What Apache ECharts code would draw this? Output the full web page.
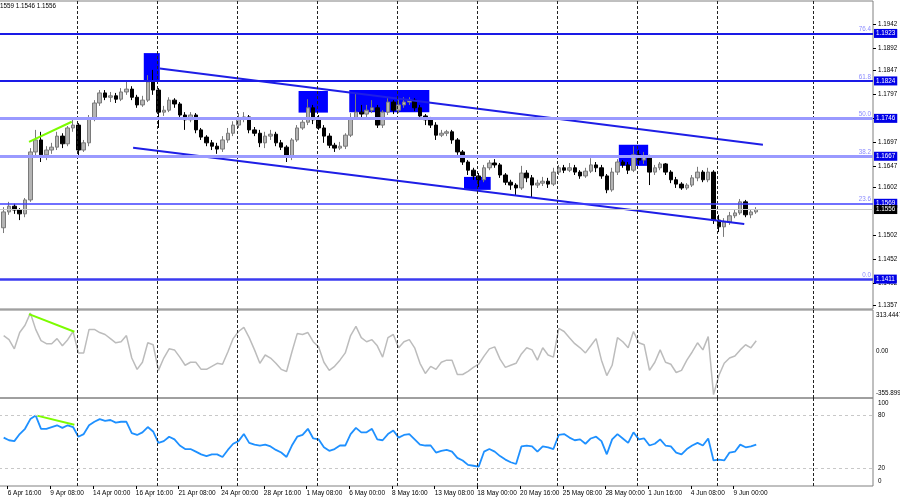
<!DOCTYPE html>
<html>
<head>
<meta charset="utf-8">
<script src="https://cdn.jsdelivr.net/npm/echarts@6/dist/echarts.min.js"></script>
<style>
html, body { margin: 0; padding: 0; background: #fff; }
#chart { width: 900px; height: 500px; }
</style>
</head>
<body>
<div id="chart"></div>
<script>
// x positions are H4 bar numbers, one candle here = two H4 bars
// [open, close, low, high]
const candles = [
  [1.1518,1.1551,1.1507,1.1561],[1.1551,1.1563,1.1545,1.1572],[1.1563,1.1555,1.1547,1.1568],[1.1555,1.1547,1.1534,1.1559],
  [1.1547,1.1576,1.1540,1.1580],[1.1576,1.1676,1.1572,1.1684],[1.1676,1.1701,1.1668,1.1722],[1.1701,1.1670,1.1655,1.1718],
  [1.1670,1.1680,1.1659,1.1688],[1.1680,1.1686,1.1672,1.1695],[1.1686,1.1709,1.1680,1.1718],[1.1709,1.1693,1.1684,1.1715],
  [1.1693,1.1726,1.1688,1.1730],[1.1726,1.1732,1.1718,1.1743],[1.1732,1.1680,1.1665,1.1736],[1.1680,1.1695,1.1676,1.1701],
  [1.1695,1.1747,1.1688,1.1753],[1.1747,1.1778,1.1740,1.1784],[1.1778,1.1799,1.1772,1.1805],[1.1799,1.1790,1.1784,1.1805],
  [1.1790,1.1793,1.1780,1.1801],[1.1793,1.1786,1.1778,1.1799],[1.1786,1.1801,1.1782,1.1809],[1.1801,1.1807,1.1795,1.1824],
  [1.1807,1.1790,1.1784,1.1813],[1.1790,1.1774,1.1768,1.1795],[1.1774,1.1784,1.1770,1.1793],[1.1784,1.1822,1.1780,1.1836],
  [1.1822,1.1805,1.1795,1.1847],[1.1805,1.1759,1.1726,1.1809],[1.1759,1.1763,1.1751,1.1772],[1.1763,1.1784,1.1759,1.1790],
  [1.1784,1.1776,1.1768,1.1788],[1.1776,1.1753,1.1747,1.1780],[1.1753,1.1743,1.1722,1.1759],[1.1743,1.1753,1.1738,1.1759],
  [1.1753,1.1722,1.1715,1.1757],[1.1722,1.1707,1.1701,1.1726],[1.1707,1.1695,1.1688,1.1711],[1.1695,1.1688,1.1680,1.1701],
  [1.1688,1.1682,1.1672,1.1695],[1.1682,1.1701,1.1676,1.1709],[1.1701,1.1715,1.1695,1.1726],[1.1715,1.1732,1.1709,1.1740],
  [1.1732,1.1747,1.1726,1.1757],[1.1747,1.1749,1.1738,1.1759],[1.1749,1.1722,1.1715,1.1753],[1.1722,1.1715,1.1709,1.1728],
  [1.1715,1.1695,1.1686,1.1722],[1.1695,1.1709,1.1684,1.1718],[1.1709,1.1713,1.1701,1.1722],[1.1713,1.1695,1.1688,1.1718],
  [1.1695,1.1686,1.1680,1.1701],[1.1686,1.1665,1.1655,1.1690],[1.1665,1.1701,1.1659,1.1705],[1.1701,1.1726,1.1697,1.1732],
  [1.1726,1.1738,1.1722,1.1747],[1.1738,1.1768,1.1732,1.1786],[1.1768,1.1743,1.1734,1.1774],[1.1743,1.1726,1.1722,1.1753],
  [1.1726,1.1709,1.1695,1.1732],[1.1709,1.1690,1.1684,1.1715],[1.1690,1.1684,1.1676,1.1695],[1.1684,1.1688,1.1680,1.1697],
  [1.1688,1.1711,1.1682,1.1715],[1.1711,1.1747,1.1707,1.1757],[1.1747,1.1759,1.1743,1.1799],[1.1759,1.1755,1.1747,1.1774],
  [1.1755,1.1763,1.1749,1.1774],[1.1763,1.1768,1.1757,1.1784],[1.1768,1.1732,1.1726,1.1774],[1.1732,1.1759,1.1726,1.1763],
  [1.1759,1.1780,1.1753,1.1788],[1.1780,1.1763,1.1755,1.1784],[1.1763,1.1774,1.1757,1.1786],[1.1774,1.1780,1.1768,1.1790],
  [1.1780,1.1784,1.1774,1.1790],[1.1784,1.1768,1.1761,1.1788],[1.1768,1.1751,1.1747,1.1774],[1.1751,1.1743,1.1732,1.1755],
  [1.1743,1.1732,1.1726,1.1749],[1.1732,1.1711,1.1701,1.1738],[1.1711,1.1715,1.1707,1.1722],[1.1715,1.1718,1.1709,1.1722],
  [1.1718,1.1701,1.1693,1.1722],[1.1701,1.1676,1.1670,1.1705],[1.1676,1.1655,1.1649,1.1680],[1.1655,1.1638,1.1628,1.1659],
  [1.1638,1.1626,1.1618,1.1643],[1.1626,1.1618,1.1603,1.1632],[1.1618,1.1643,1.1613,1.1649],[1.1643,1.1653,1.1638,1.1659],
  [1.1653,1.1649,1.1643,1.1661],[1.1649,1.1628,1.1622,1.1653],[1.1628,1.1613,1.1607,1.1632],[1.1613,1.1607,1.1597,1.1618],
  [1.1607,1.1601,1.1586,1.1611],[1.1601,1.1632,1.1597,1.1647],[1.1632,1.1622,1.1613,1.1638],[1.1622,1.1607,1.1582,1.1628],
  [1.1607,1.1611,1.1601,1.1618],[1.1611,1.1615,1.1605,1.1624],[1.1615,1.1609,1.1601,1.1622],[1.1609,1.1634,1.1605,1.1643],
  [1.1634,1.1643,1.1628,1.1649],[1.1643,1.1638,1.1632,1.1649],[1.1638,1.1643,1.1634,1.1653],[1.1643,1.1634,1.1628,1.1649],
  [1.1634,1.1626,1.1620,1.1638],[1.1626,1.1636,1.1622,1.1643],[1.1636,1.1649,1.1632,1.1663],[1.1649,1.1643,1.1634,1.1655],
  [1.1643,1.1626,1.1620,1.1649],[1.1626,1.1597,1.1590,1.1630],[1.1597,1.1634,1.1593,1.1643],[1.1634,1.1655,1.1628,1.1661],
  [1.1655,1.1649,1.1643,1.1659],[1.1649,1.1638,1.1630,1.1655],[1.1638,1.1670,1.1634,1.1688],[1.1670,1.1659,1.1649,1.1680],
  [1.1659,1.1665,1.1651,1.1676],[1.1665,1.1634,1.1607,1.1670],[1.1634,1.1643,1.1628,1.1649],[1.1643,1.1651,1.1638,1.1655],
  [1.1651,1.1634,1.1628,1.1653],[1.1634,1.1618,1.1611,1.1638],[1.1618,1.1609,1.1601,1.1624],[1.1609,1.1601,1.1597,1.1613],
  [1.1601,1.1607,1.1597,1.1611],[1.1607,1.1622,1.1603,1.1628],[1.1622,1.1634,1.1615,1.1645],[1.1634,1.1618,1.1613,1.1638],
  [1.1618,1.1634,1.1613,1.1643],[1.1634,1.1534,1.1526,1.1638],[1.1534,1.1520,1.1509,1.1545],[1.1520,1.1530,1.1499,1.1538],
  [1.1530,1.1543,1.1524,1.1551],[1.1543,1.1549,1.1538,1.1557],[1.1549,1.1572,1.1545,1.1578],[1.1572,1.1545,1.1540,1.1576],
  [1.1545,1.1551,1.1538,1.1557],[1.1551,1.1556,1.1547,1.1561]
];

const cci = [
  119,88,18,142,197,290,166,80,57,57, 96,41,88,150,-13,-13,166,166,142,127,
  96,64,72,119,-52,-138,-84,64,49,-146, -52,18,10,-45,-107,-84,-84,-138,-138,-115,
  -92,-99,-6,96,150,181,103,10,-92,-29, -52,-92,-138,-154,-6,134,127,142,72,33,
  -84,-146,-115,-68,-13,119,189,103,72,88, 41,-45,103,127,26,72,88,26,-92,-169,
  -115,-138,-84,-68,-68,-177,-177,-154,-123,-99, -37,18,33,-60,-123,-107,-92,-21,26,10,
  -68,26,-29,-45,173,150,103,57,26,-13, 41,96,-68,-185,-107,103,72,26,150,64,
  49,-146,-84,10,-84,-99,-162,-146,-68,-6, 64,10,111,-330,-185,-92,-52,-37,10,49,
  26,80
];

const rsi = [
  55,52,51,59,65,76,80,65,65,67, 69,66,69,67,56,59,69,73,76,74,
  75,72,73,73,60,58,61,67,62,49, 51,56,53,46,42,42,39,36,34,36,
  36,33,41,48,51,59,49,47,46,47, 45,41,38,33,46,56,58,65,54,53,
  44,40,42,46,46,59,66,61,61,65, 53,52,59,63,55,58,59,53,47,46,
  46,38,40,41,39,32,29,24,23,22, 39,42,39,34,30,27,25,45,46,45,
  39,45,44,42,58,59,55,52,53,48, 54,56,51,36,53,59,54,49,61,53,
  54,46,48,53,46,45,38,36,42,46, 49,46,54,29,30,29,38,39,47,44,
  45,47
];

const dateLabels = ['6 Apr 16:00', '9 Apr 08:00', '14 Apr 00:00', '16 Apr 16:00', '21 Apr 08:00', '24 Apr 00:00',
  '28 Apr 16:00', '1 May 08:00', '6 May 00:00', '8 May 16:00', '13 May 08:00', '18 May 00:00',
  '20 May 16:00', '25 May 08:00', '28 May 00:00', '1 Jun 16:00', '4 Jun 08:00', '9 Jun 00:00'];
const dateLabelBars = [2, 18, 34, 50, 66, 82, 98, 114, 130, 146, 162, 178, 194, 210, 226, 242, 258, 274];
const weekBars = [28, 58, 88, 118, 148, 178, 208, 238, 268, 304];

const priceTicks = [1.1942, 1.1892, 1.1847, 1.1797, 1.1746, 1.1697, 1.1647, 1.1602, 1.1502, 1.1452, 1.1402, 1.1357];
const fibLevels = ['76.4', '61.8', '50.0', '38.2', '23.6', '0.0'];
const fibPrices = [1.1923, 1.1824, 1.1746, 1.1667, 1.1569, 1.1411];
const lastPrice = 1.1556;

// [fromBar, toBar, low, high]
const boxes = [
  [53, 59, 1.1826, 1.1882],
  [111, 122, 1.1758, 1.1803],
  [130, 160, 1.1759, 1.1805],
  [173, 183, 1.1597, 1.1624],
  [231, 242, 1.1647, 1.1691]
];
const channelUpper = [[59, 1.1850], [285, 1.1691]];
const channelLower = [[49, 1.1685], [278, 1.1526]];
const divPrice = [[10, 1.1697], [26, 1.1739]];
const divCci = [[10, 282], [27, 148]];
const divRsi = [[13, 80], [27, 69.5]];
const cciRange = [-355.899, 313.4447];
const rsiTicks = [100, 80, 20, 0];
const rsiLevels = [80, 20];

const FONT = "'Liberation Sans', Arial, sans-serif";
const FS = 6.3;
const fibColors = ['#1a1ae6', '#1a1ae6', '#9a9aff', '#9a9aff', '#4040ff', '#3b3bf0'];
const fibWidths = [2, 2, 3, 3, 1.5, 2.5];

const barOf = k => 2 * k + 0.5;
const chart = echarts.init(document.getElementById('chart'));

const gridBase = { left: -1, right: 27, show: true, borderColor: '#808080', borderWidth: 1, containLabel: false, outerBoundsMode: 'none' };
const grids = [
  Object.assign({ top: 1, height: 308 }, gridBase),
  Object.assign({ top: 310, height: 88 }, gridBase),
  Object.assign({ top: 398, height: 88 }, gridBase)
];

const xAxes = [0, 1, 2].map(i => ({
  type: 'value', gridIndex: i, min: -1.25, max: 326.25,
  axisLine: { show: false, onZero: false }, splitLine: { show: false },
  axisTick: { show: i === 2, customValues: dateLabelBars, length: 3, lineStyle: { color: '#000' } },
  axisLabel: {
    show: i === 2, customValues: dateLabelBars, align: 'left', margin: 4,
    fontSize: 6.5, fontFamily: FONT, color: '#000',
    formatter: v => dateLabels[dateLabelBars.indexOf(v)] || ''
  }
}));

const edgeRich = {
  top: { padding: [10, 0, 0, 0], fontSize: FS, fontFamily: FONT, color: '#000' },
  bot: { padding: [0, 0, 9, 0], fontSize: FS, fontFamily: FONT, color: '#000' }
};

const yAxes = [
  {
    type: 'value', gridIndex: 0, position: 'right', min: 1.13487, max: 1.19906,
    axisLine: { show: false, onZero: false }, splitLine: { show: false },
    axisTick: { show: true, customValues: priceTicks, length: 3, lineStyle: { color: '#000' } },
    axisLabel: { customValues: priceTicks, formatter: v => v.toFixed(4), fontSize: FS, fontFamily: FONT, color: '#000', margin: 5 }
  },
  {
    type: 'value', gridIndex: 1, position: 'right', min: cciRange[0], max: cciRange[1],
    axisLine: { show: false, onZero: false }, splitLine: { show: false }, axisTick: { show: false },
    axisLabel: {
      customValues: [cciRange[1], 0, cciRange[0]], fontSize: FS, fontFamily: FONT, color: '#000', margin: 3,
      rich: edgeRich,
      formatter: v => v === cciRange[1] ? '{top|' + v + '}' : v === cciRange[0] ? '{bot|' + v + '}' : '0.00'
    }
  },
  {
    type: 'value', gridIndex: 2, position: 'right', min: 0, max: 100,
    axisLine: { show: false, onZero: false }, splitLine: { show: false }, axisTick: { show: false },
    axisLabel: {
      customValues: rsiTicks, fontSize: FS, fontFamily: FONT, color: '#000', margin: 5,
      rich: edgeRich,
      formatter: v => v === 100 ? '{top|100}' : v === 0 ? '{bot|0}' : String(v)
    }
  }
];

const weekLineMark = {
  silent: true, symbol: ['none', 'none'], label: { show: false }, precision: 4,
  lineStyle: { color: '#222', type: [3, 2], width: 1 },
  data: weekBars.map(b => ({ xAxis: b }))
};

const levelMarks = [];
fibPrices.forEach((p, i) => {
  levelMarks.push({
    yAxis: p,
    lineStyle: { color: fibColors[i], width: fibWidths[i], type: 'solid' },
    label: { show: true, position: 'end', distance: 1, formatter: p.toFixed(4), backgroundColor: '#0000e6',
      color: '#fff', padding: [2, 2, 1, 2], fontSize: FS, fontFamily: FONT }
  });
  levelMarks.push({
    yAxis: p,
    lineStyle: { color: 'rgba(0,0,0,0)', width: 0 },
    label: { show: true, position: 'insideEndTop', distance: [2, 1], formatter: fibLevels[i],
      color: '#8a8aff', fontSize: FS, fontFamily: FONT }
  });
});
levelMarks.push({
  yAxis: lastPrice,
  lineStyle: { color: '#c8c8c8', width: 1, type: 'solid' },
  label: { show: true, position: 'end', distance: 1, formatter: lastPrice.toFixed(4), backgroundColor: '#000',
    color: '#fff', padding: [2, 2, 1, 2], fontSize: FS, fontFamily: FONT }
});

const straight = (data, color, width, xi, z) => ({
  type: 'line', xAxisIndex: xi, yAxisIndex: xi, data: data, symbol: 'none', silent: true, z: z,
  lineStyle: { color: color, width: width }
});

const option = {
  animation: false,
  backgroundColor: '#fff',
  title: {
    text: '1559 1.1546 1.1556', left: 0, top: 3, padding: 0,
    textStyle: { fontSize: FS, fontWeight: 'normal', fontFamily: FONT, color: '#000' }
  },
  grid: grids,
  xAxis: xAxes,
  yAxis: yAxes,
  series: [
    {
      type: 'custom', coordinateSystem: 'cartesian2d', xAxisIndex: 0, yAxisIndex: 0, z: 1, silent: true,
      data: boxes, encode: { x: [0, 1], y: [2, 3] },
      renderItem: (params, api) => {
        const a = api.coord([api.value(0), api.value(3)]);
        const b = api.coord([api.value(1), api.value(2)]);
        return { type: 'rect', shape: { x: a[0], y: a[1], width: b[0] - a[0], height: b[1] - a[1] }, style: { fill: '#0000ff' } };
      },
      markLine: weekLineMark
    },
    {
      type: 'candlestick', xAxisIndex: 0, yAxisIndex: 0, z: 3, silent: true,
      data: candles.map((c, k) => [barOf(k)].concat(c)),
      encode: { x: 0, y: [1, 2, 3, 4] },
      barWidth: 4,
      itemStyle: { color: '#b4b4b4', color0: '#000', borderColor: '#7a7a7a', borderColor0: '#000', borderWidth: 1 }
    },
    Object.assign(straight(channelUpper, '#1e1ee6', 2, 0, 4), {
      clip: false,
      markLine: { silent: true, symbol: ['none', 'none'], precision: 4, data: levelMarks }
    }),
    straight(channelLower, '#1e1ee6', 2, 0, 4),
    straight(divPrice, '#7cfc00', 2, 0, 4),
    {
      type: 'line', xAxisIndex: 1, yAxisIndex: 1, symbol: 'none', silent: true,
      data: cci.map((v, k) => [barOf(k), v]),
      lineStyle: { color: '#bcbcbc', width: 1.5 },
      markLine: weekLineMark
    },
    straight(divCci, '#7cfc00', 2, 1, 4),
    {
      type: 'line', xAxisIndex: 2, yAxisIndex: 2, symbol: 'none', silent: true,
      data: rsi.map((v, k) => [barOf(k), v]),
      lineStyle: { color: '#1e90ff', width: 1.8 },
      markLine: {
        silent: true, symbol: ['none', 'none'], label: { show: false },
        data: weekBars.map(b => ({ xAxis: b, lineStyle: { color: '#222', type: [3, 2], width: 1 } }))
          .concat(rsiLevels.map(v => ({ yAxis: v, lineStyle: { color: '#c8c8c8', type: [3, 3], width: 1 } })))
      }
    },
    straight(divRsi, '#7cfc00', 2, 2, 4)
  ]
};

chart.setOption(option);
</script>
</body>
</html>
